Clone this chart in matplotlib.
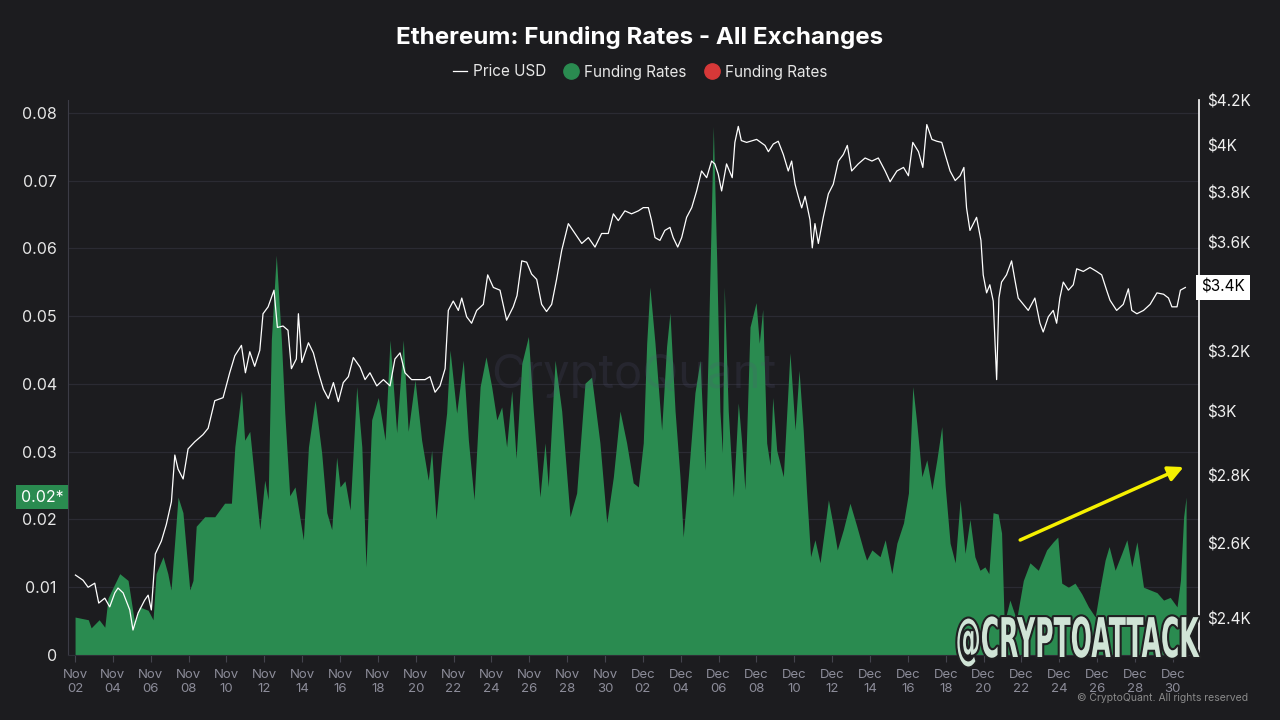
import matplotlib.pyplot as plt
import matplotlib.patheffects as pe
import pandas as pd
from matplotlib.lines import Line2D
from matplotlib.ticker import NullLocator
from matplotlib.transforms import Affine2D

plt.rcParams['font.family'] = ['Inter', 'DejaVu Sans']

START = pd.Timestamp('2024-11-02')

# funding rate, all exchanges (days since Nov 02, rate)
fr_day = [
    0.0, 0.7, 0.85, 1.27, 1.57, 1.74, 2.36, 2.8, 2.96, 3.15, 3.4, 3.86, 4.12, 4.28,
    4.65, 4.9, 5.07, 5.44, 5.7, 6.06, 6.23, 6.4, 6.85, 7.38, 7.9, 8.26, 8.44, 8.79,
    8.96, 9.23, 9.49, 9.76, 10.02, 10.2, 10.37, 10.63, 10.9, 11.08, 11.34, 11.62,
    12.06, 12.33, 12.68, 13.03, 13.3, 13.56, 13.82, 14.0, 14.26, 14.53, 14.88, 15.15,
    15.37, 15.67, 16.02, 16.38, 16.64, 16.99, 17.34, 17.6, 17.96, 18.31, 18.66, 18.84,
    19.07, 19.37, 19.63, 19.81, 20.16, 20.51, 20.78, 21.08, 21.4, 21.71, 22.01, 22.28,
    22.54, 22.8, 23.07, 23.3, 23.6, 23.95, 24.21, 24.56, 24.83, 25.0, 25.36, 25.71,
    26.15, 26.5, 26.94, 27.29, 27.73, 28.09, 28.44, 28.79, 29.14, 29.49, 29.76, 30.02,
    30.2, 30.37, 30.64, 30.99, 31.25, 31.43, 31.7, 31.96, 32.13, 32.4, 32.75, 33.02,
    33.28, 33.46, 33.72, 33.9, 34.07, 34.2, 34.3, 34.51, 34.78, 35.04, 35.2, 35.39,
    35.66, 35.98, 36.15, 36.33, 36.54, 36.72, 36.86, 37.07, 37.42, 37.77, 38.04, 38.25,
    38.47, 38.65, 38.86, 39.09, 39.36, 39.62, 39.8, 40.06, 40.27, 40.59, 40.94, 41.3,
    41.65, 41.82, 42.1, 42.53, 42.8, 43.15, 43.42, 43.77, 44.03, 44.26, 44.47, 44.74,
    45.0, 45.27, 45.53, 45.79, 45.97, 46.23, 46.5, 46.76, 47.02, 47.28, 47.54, 47.81,
    48.07, 48.28, 48.5, 48.77, 48.95, 49.09, 49.39, 49.74, 50.1, 50.45, 50.89, 51.33,
    51.68, 51.92, 52.13, 52.48, 52.83, 53.19, 53.54, 53.9, 54.16, 54.42, 54.63, 54.95,
    55.3, 55.57, 55.83, 56.1, 56.45, 56.8, 57.16, 57.51, 57.86, 58.22, 58.4, 58.57, 58.7,
]
fr_value = [
    0.0056, 0.0052, 0.0040, 0.0052, 0.0041, 0.0084, 0.0120, 0.0110, 0.0081, 0.0047,
    0.0071, 0.0066, 0.0052, 0.0120, 0.0145, 0.0120, 0.0096, 0.0233, 0.0210, 0.0096,
    0.0110, 0.0190, 0.0204, 0.0204, 0.0224, 0.0224, 0.0307, 0.0390, 0.0317, 0.0330,
    0.0258, 0.0185, 0.0258, 0.0229, 0.0465, 0.0590, 0.0465, 0.0357, 0.0235, 0.0248,
    0.0170, 0.0307, 0.0376, 0.0298, 0.0210, 0.0185, 0.0292, 0.0248, 0.0257, 0.0214,
    0.0396, 0.0307, 0.0130, 0.0347, 0.0380, 0.0317, 0.0465, 0.0328, 0.0465, 0.0330,
    0.0406, 0.0317, 0.0258, 0.0302, 0.0200, 0.0293, 0.0357, 0.0450, 0.0357, 0.0435,
    0.0317, 0.0229, 0.0396, 0.0440, 0.0396, 0.0347, 0.0366, 0.0307, 0.0390, 0.0290,
    0.0430, 0.0470, 0.0360, 0.0233, 0.0313, 0.0248, 0.0435, 0.0360, 0.0204, 0.0239,
    0.0401, 0.0410, 0.0313, 0.0195, 0.0263, 0.0360, 0.0313, 0.0254, 0.0248, 0.0313,
    0.0460, 0.0543, 0.0460, 0.0332, 0.0455, 0.0505, 0.0360, 0.0263, 0.0174, 0.0263,
    0.0387, 0.0435, 0.0273, 0.0460, 0.0780, 0.0583, 0.0360, 0.0298, 0.0543, 0.0360,
    0.0233, 0.0372, 0.0320, 0.0244, 0.0484, 0.0520, 0.0460, 0.0510, 0.0313, 0.0280,
    0.0380, 0.0302, 0.0263, 0.0446, 0.0332, 0.0420, 0.0332, 0.0239, 0.0145, 0.0170,
    0.0136, 0.0190, 0.0229, 0.0190, 0.0155, 0.0185, 0.0224, 0.0190, 0.0155, 0.0140,
    0.0155, 0.0145, 0.0170, 0.0120, 0.0165, 0.0195, 0.0239, 0.0396, 0.0342, 0.0263,
    0.0288, 0.0244, 0.0288, 0.0337, 0.0250, 0.0165, 0.0136, 0.0229, 0.0150, 0.0200,
    0.0145, 0.0125, 0.0130, 0.0120, 0.0210, 0.0208, 0.0180, 0.0047, 0.0081, 0.0052,
    0.0110, 0.0136, 0.0125, 0.0155, 0.0167, 0.0174, 0.0106, 0.0100, 0.0106, 0.0090,
    0.0071, 0.0056, 0.0100, 0.0140, 0.0160, 0.0125, 0.0150, 0.0170, 0.0130, 0.0167,
    0.0100, 0.0096, 0.0092, 0.0081, 0.0085, 0.0071, 0.0110, 0.0204, 0.0233,
]

# ETH price in USD (days since Nov 02, price)
price_day = [
    0.02, 0.42, 0.69, 1.04, 1.25, 1.57, 1.83, 2.1, 2.27, 2.54, 2.89, 3.06, 3.33, 3.68,
    3.86, 4.03, 4.24, 4.56, 4.82, 5.09, 5.27, 5.44, 5.71, 5.97, 6.32, 6.76, 7.03, 7.38,
    7.82, 8.17, 8.44, 8.79, 9.0, 9.23, 9.49, 9.76, 9.93, 10.2, 10.51, 10.69, 10.99,
    11.25, 11.43, 11.69, 11.8, 11.98, 12.33, 12.59, 12.86, 13.12, 13.38, 13.65, 13.91,
    14.17, 14.44, 14.7, 15.06, 15.32, 15.58, 15.94, 16.29, 16.64, 16.9, 17.17, 17.43,
    17.78, 18.14, 18.49, 18.75, 19.02, 19.28, 19.55, 19.72, 19.98, 20.25, 20.43, 20.69,
    20.95, 21.22, 21.57, 21.8, 22.1, 22.45, 22.8, 23.15, 23.35, 23.6, 23.86, 24.12,
    24.39, 24.65, 24.91, 25.18, 25.44, 25.71, 26.06, 26.41, 26.77, 27.12, 27.47, 27.82,
    28.17, 28.44, 28.7, 29.05, 29.4, 29.76, 30.02, 30.29, 30.46, 30.64, 30.9, 31.16,
    31.43, 31.6, 31.84, 32.05, 32.31, 32.58, 32.84, 33.1, 33.37, 33.63, 33.8, 33.98,
    34.16, 34.42, 34.72, 34.86, 35.04, 35.2, 35.48, 36.01, 36.45, 36.63, 36.89, 37.15,
    37.42, 37.68, 37.86, 38.04, 38.21, 38.39, 38.57, 38.83, 38.95, 39.09, 39.27, 39.53,
    39.8, 40.06, 40.33, 40.59, 40.8, 41.03, 41.38, 41.74, 42.1, 42.44, 42.8, 43.06,
    43.42, 43.77, 44.03, 44.26, 44.56, 44.79, 45.0, 45.27, 45.53, 45.79, 45.97, 46.23,
    46.5, 46.76, 46.96, 47.1, 47.28, 47.63, 47.86, 47.98, 48.16, 48.33, 48.51, 48.69,
    48.81, 48.95, 49.21, 49.48, 49.65, 49.83, 50.1, 50.36, 50.71, 50.98, 51.15, 51.42,
    51.68, 51.86, 52.03, 52.21, 52.48, 52.74, 52.92, 53.27, 53.62, 53.97, 54.24, 54.5,
    54.68, 55.03, 55.38, 55.65, 55.83, 56.1, 56.45, 56.8, 57.16, 57.51, 57.77, 57.95,
    58.22, 58.4, 58.66,
]
price_usd = [
    2514, 2500, 2481, 2492, 2439, 2452, 2429, 2466, 2479, 2466, 2421, 2369, 2413, 2447,
    2460, 2421, 2572, 2608, 2655, 2721, 2862, 2819, 2789, 2881, 2903, 2926, 2946, 3035,
    3045, 3128, 3186, 3222, 3128, 3200, 3150, 3205, 3334, 3359, 3420, 3285, 3290,
    3275, 3142, 3175, 3334, 3163, 3231, 3196, 3128, 3073, 3042, 3095, 3032,
    3095, 3115, 3180, 3147, 3105, 3128, 3084, 3105, 3084, 3175, 3196, 3128,
    3105, 3105, 3105, 3115, 3063, 3084, 3142, 3346, 3380, 3346, 3391, 3323,
    3300, 3346, 3368, 3477, 3430, 3420, 3311, 3359, 3400, 3530, 3525, 3480,
    3460, 3368, 3342, 3368, 3460, 3570, 3675, 3636, 3597, 3620, 3583, 3636,
    3636, 3714, 3687, 3726, 3714, 3726, 3739, 3739, 3687, 3620, 3609, 3648,
    3660, 3620, 3583, 3620, 3700, 3739, 3807, 3890, 3862, 3932, 3920, 3877,
    3807, 3920, 3862, 4012, 4082, 4020, 4012, 4025, 3999, 3972, 4005, 4017,
    3960, 3890, 3932, 3835, 3785, 3738, 3785, 3690, 3580, 3675, 3597, 3700,
    3795, 3835, 3932, 3960, 3999, 3890, 3920, 3945, 3932, 3945, 3890, 3845,
    3890, 3905, 3870, 4012, 3972, 3905, 4090, 4025, 4017, 4012, 3960, 3890,
    3850, 3870, 3905, 3738, 3648, 3700, 3609, 3477, 3410, 3440, 3380, 3105,
    3391, 3450, 3477, 3530, 3460, 3391, 3368, 3346, 3391, 3300, 3269, 3323,
    3346, 3300, 3391, 3450, 3420, 3440, 3500, 3490, 3505, 3490, 3477, 3420,
    3383, 3346, 3368, 3425, 3346, 3334, 3346, 3368, 3410, 3405, 3391, 3359,
    3359, 3420, 3430,
]

rate_ticks = [0, 0.01, 0.02, 0.03, 0.04, 0.05, 0.06, 0.07, 0.08]
price_ticks = [2400, 2600, 2800, 3000, 3200, 3600, 3800, 4000, 4200]
date_ticks = pd.date_range('2024-11-02', '2024-12-30', freq='2D')

BG = '#1c1c1f'
GREEN = '#2a8b50'
RED = '#d63838'
GRID = '#2b2b33'


class Squeezed(pe.Stroke):
    """Stroke effect that also rescales the glyphs around an anchor (display px)."""

    def __init__(self, anchor, sx, sy, **kwargs):
        super().__init__(**kwargs)
        self._squeeze = (Affine2D().translate(-anchor[0], -anchor[1])
                         .scale(sx, sy).translate(anchor[0], anchor[1]))

    def draw_path(self, renderer, gc, tpath, affine, rgbFace):
        gc0 = renderer.new_gc()
        gc0.copy_properties(gc)
        gc0 = self._update_gc(gc0, self._gc)
        renderer.draw_path(gc0, tpath, affine + self._squeeze, rgbFace)
        gc0.restore()


fig = plt.figure(figsize=(12.8, 7.2), dpi=100, facecolor=BG)
ax = fig.add_axes([0.0531, 0.0903, 0.8836, 0.7708])
ax.set_facecolor(BG)

fr_time = START + pd.to_timedelta(fr_day, unit='D')
price_time = START + pd.to_timedelta(price_day, unit='D')

ax.fill_between(fr_time, 0, fr_value, color=GREEN, lw=0, zorder=2)
ax.set_ylim(0, 0.0819)
ax.set_xlim(START - pd.Timedelta(hours=9), START + pd.Timedelta(days=59.38))
ax.set_yticks(rate_ticks)
ax.set_yticklabels([f'{v:g}' for v in rate_ticks])
ax.grid(axis='y', color=GRID, lw=0.9, zorder=0)
ax.set_xticks(date_ticks)
ax.set_xticklabels([d.strftime('%b\n%d') for d in date_ticks])
ax.tick_params(axis='y', length=0, pad=8, labelsize=11.5, labelcolor='#e6e6e6')
ax.tick_params(axis='x', length=5, width=0.8, color='#44444e', pad=5,
               labelsize=9.5, labelcolor='#8c8c99')
for side in ['top', 'right']:
    ax.spines[side].set_visible(False)
ax.spines['left'].set_color('#3c3c46')
ax.spines['bottom'].set_color('#2e2e36')

# current funding value marker
ax.text(-0.004, fr_value[-1], f'{fr_value[-1]:.2f}*', transform=ax.get_yaxis_transform(),
        ha='right', va='center', color='white', fontsize=11.5, zorder=10,
        bbox=dict(boxstyle='square,pad=0.3', fc=GREEN, ec='none'), clip_on=False)

ax2 = ax.twinx()
ax2.plot(price_time, price_usd, color='white', lw=0.9, zorder=3)
ax2.set_yscale('log')
ax2.set_ylim(2306, 4200)
ax2.yaxis.set_minor_locator(NullLocator())
ax2.set_yticks(price_ticks)
ax2.set_yticklabels([f'${v / 1000:g}K' for v in price_ticks])
ax2.tick_params(axis='y', length=0, pad=6, labelsize=11, labelcolor='#f0f0f0')
for side in ['top', 'left', 'bottom']:
    ax2.spines[side].set_visible(False)
ax2.spines['right'].set_color('white')
ax2.spines['right'].set_linewidth(1.2)

ax2.text(1.002, price_usd[-1], f'${price_usd[-1] / 1000:.1f}K',
         transform=ax2.get_yaxis_transform(), ha='left', va='center', color='black',
         fontsize=11, zorder=10, clip_on=False,
         bbox=dict(boxstyle='square,pad=0.35', fc='white', ec='none'))

# trend arrow
ax.annotate('', xy=(START + pd.Timedelta(days=58.7), 0.0279),
            xytext=(START + pd.Timedelta(days=49.8), 0.0168),
            arrowprops=dict(arrowstyle='-|>,head_length=0.9,head_width=0.45',
                            color='#f5f000', lw=2.5), zorder=8)

# title and legend
fig.text(0.5, 0.948, 'Ethereum: Funding Rates - All Exchanges', ha='center', va='center',
         color='white', fontsize=17.4, fontweight='bold')
handles = [
    Line2D([], [], color='white', lw=0.9),
    Line2D([], [], ls='', marker='o', ms=11, mfc=GREEN, mec=GREEN),
    Line2D([], [], ls='', marker='o', ms=11, mfc=RED, mec=RED),
]
fig.legend(handles, ['Price USD', 'Funding Rates', 'Funding Rates'], loc='center',
           bbox_to_anchor=(0.5, 0.9), ncol=3, frameon=False, fontsize=11,
           labelcolor='#e6e6e6', handlelength=0.9, handletextpad=0.4, columnspacing=1.2)

# watermarks
fig.text(0.495, 0.478, 'CryptoQuant', ha='center', va='center', fontsize=34,
         color='#55557a', alpha=0.18, zorder=20)
tag_anchor = (1198, 63)
tag_fx = [Squeezed(tag_anchor, 0.82, 1.79, linewidth=3, foreground='#202022'),
          Squeezed(tag_anchor, 0.82, 1.79)]
fig.text(tag_anchor[0] / 1280, tag_anchor[1] / 720, '@CRYPTOATTACK', ha='right',
         va='baseline', fontsize=22, fontweight='bold', family='DejaVu Sans',
         color='#d0e4d6', zorder=20, path_effects=tag_fx)
fig.text(0.975, 0.030, '© CryptoQuant. All rights reserved', ha='right', va='center',
         fontsize=7.5, color='#8a8a8a')

fig.savefig('out.png', dpi=100, facecolor=BG)
